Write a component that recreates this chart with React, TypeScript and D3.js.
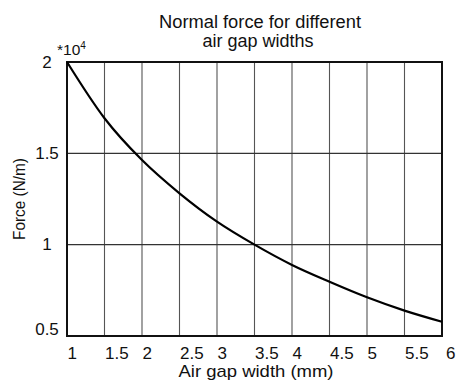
import React from "react";
import * as d3 from "d3";

const gapWidths = [1, 1.5, 2, 2.5, 3, 3.5, 4, 4.5, 5, 5.5, 6];
const forceValues = [2.0, 1.692, 1.463, 1.281, 1.126, 1.0, 0.889, 0.797, 0.712, 0.639, 0.578];
const xTicks = [1, 1.5, 2, 2.5, 3, 3.5, 4, 4.5, 5, 5.5, 6];
const yTicks = [0.5, 1, 1.5, 2];
const titleLines = ["Normal force for different", "air gap widths"];
const xLabel = "Air gap width (mm)";
const yLabel = "Force (N/m)";

const W = 456;
const H = 385;
const FONT = "'Liberation Sans', Arial, sans-serif";

export default function App() {
  const x = d3.scaleLinear().domain([1, 6]).range([67, 442]);
  const y = d3.scaleLinear().domain([0.5, 2]).range([336, 62]);
  const pts: [number, number][] = gapWidths.map((g, i) => [g, forceValues[i]]);
  const line = d3
    .line<[number, number]>()
    .x((d) => x(d[0]))
    .y((d) => y(d[1]))
    .curve(d3.curveMonotoneX);

  return (
    <svg
      width={W}
      height={H}
      style={{ position: "absolute", left: 0, top: 0, background: "#fff" }}
      fontFamily={FONT}
    >
      <rect x={0} y={0} width={W} height={H} fill="#fff" />
      <text x={260} y={28.3} textAnchor="middle" fontSize={17.5} fill="#111" textLength={202} lengthAdjust="spacingAndGlyphs">
        {titleLines[0]}
      </text>
      <text x={258} y={46.5} textAnchor="middle" fontSize={17.5} fill="#111" textLength={111} lengthAdjust="spacingAndGlyphs">
        {titleLines[1]}
      </text>
      {/* vertical grid */}
      {xTicks.slice(1, -1).map((v) => (
        <line key={"vx" + v} x1={x(v)} x2={x(v)} y1={y(2)} y2={y(0.5)} stroke="#555" strokeWidth={1.1} />
      ))}
      {/* horizontal grid */}
      {yTicks.slice(1, -1).map((v) => (
        <line key={"hy" + v} x1={x(1)} x2={x(6)} y1={y(v)} y2={y(v)} stroke="#333" strokeWidth={1.1} />
      ))}
      {/* frame */}
      <rect
        x={x(1)}
        y={y(2)}
        width={x(6) - x(1)}
        height={y(0.5) - y(2)}
        fill="none"
        stroke="#111"
        strokeWidth={2}
      />
      <path d={line(pts) || ""} fill="none" stroke="#000" strokeWidth={2.2} />
      {/* y tick labels */}
      {yTicks.map((v) => (
        <text
          key={"yt" + v}
          x={47}
          y={y(v) + (v === 0.5 ? -1.5 : 5.8)}
          textAnchor="middle"
          fontSize={17}
          fill="#111"
        >
          {v}
        </text>
      ))}
      <text x={57} y={55} fontSize={15.5} fill="#111">
        *10
        <tspan dy={-6} fontSize={10}>
          4
        </tspan>
      </text>
      {/* x tick labels */}
      {xTicks.map((v) => (
        <text key={"xt" + v} x={x(v) + (v === 6 ? 4 : 0.5)} y={358.5} textAnchor="start" fontSize={17} fill="#111">
          {v}
        </text>
      ))}
      <text x={256} y={377} textAnchor="middle" fontSize={17} fill="#111" textLength={155} lengthAdjust="spacingAndGlyphs">
        {xLabel}
      </text>
      <text
        transform={`translate(25,199) rotate(-90)`}
        textAnchor="middle"
        fontSize={16.5}
        fill="#111"
        textLength={82}
        lengthAdjust="spacingAndGlyphs"
      >
        {yLabel}
      </text>
    </svg>
  );
}
